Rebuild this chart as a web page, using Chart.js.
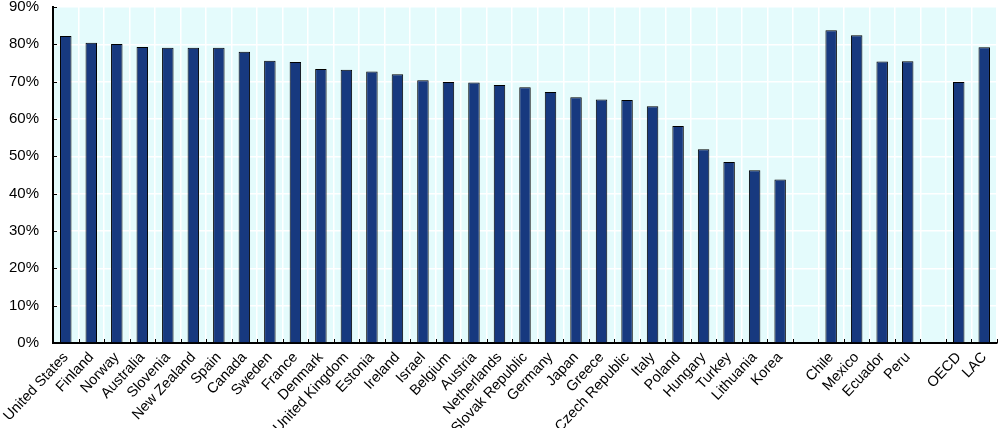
<!DOCTYPE html>
<html>
<head>
<meta charset="utf-8">
<script src="https://cdn.jsdelivr.net/npm/chart.js@4/dist/chart.umd.min.js"></script>
<style>
  html, body { margin: 0; padding: 0; background: #fff; }
  #wrap { width: 1000px; height: 428px; position: relative; }
</style>
</head>
<body>
<div id="wrap"><canvas id="chart"></canvas></div>
<script>
// empty strings are the spacer slots between the groups
const categories = [
  'United States', 'Finland', 'Norway', 'Australia', 'Slovenia', 'New Zealand', 'Spain', 'Canada',
  'Sweden', 'France', 'Denmark', 'United Kingdom', 'Estonia', 'Ireland', 'Israel', 'Belgium',
  'Austria', 'Netherlands', 'Slovak Republic', 'Germany', 'Japan', 'Greece', 'Czech Republic',
  'Italy', 'Poland', 'Hungary', 'Turkey', 'Lithuania', 'Korea',
  '',
  'Chile', 'Mexico', 'Ecuador', 'Peru',
  '',
  'OECD', 'LAC'
];

const shares = [
  82.2, 80.4, 80.1, 79.3, 79.1, 79.1, 79.1, 78.0,
  75.6, 75.3, 73.4, 73.2, 72.7, 72.0, 70.4, 69.9,
  69.8, 69.1, 68.5, 67.2, 65.8, 65.2, 65.1,
  63.4, 58.1, 51.9, 48.5, 46.3, 43.8,
  null,
  83.8, 82.4, 75.4, 75.5,
  null,
  69.9, 79.2
];

const yTicks = [0, 10, 20, 30, 40, 50, 60, 70, 80, 90];

const plotBg = '#e4fbfc';
const barColor = '#17397f';

// light plot background + short inward tick marks like the original
const plotDecor = {
  id: 'plotDecor',
  beforeDraw(chart) {
    const { ctx, chartArea: a } = chart;
    ctx.save();
    ctx.fillStyle = plotBg;
    ctx.fillRect(a.left, a.top, a.right - a.left, a.bottom - a.top);
    ctx.restore();
  },
  afterDatasetsDraw(chart) {
    const { ctx, chartArea: a, scales } = chart;
    const x = scales.x, y = scales.y;
    ctx.save();
    ctx.strokeStyle = '#000';
    ctx.lineWidth = 1;
    ctx.beginPath();
    for (let i = 0; i <= categories.length; i++) {
      const px = Math.round(x.getPixelForValue(i - 0.5)) + 0.5;
      ctx.moveTo(px, a.bottom);
      ctx.lineTo(px, a.bottom - 4);
    }
    yTicks.forEach((v) => {
      const py = Math.round(y.getPixelForValue(v)) + 0.5;
      ctx.moveTo(a.left, py);
      ctx.lineTo(a.left + 4, py);
    });
    ctx.stroke();
    ctx.restore();
  }
};

Chart.defaults.font.family = '"Liberation Sans", Arial, sans-serif';
Chart.defaults.color = '#000';

new Chart(document.getElementById('chart'), {
  type: 'bar',
  data: {
    labels: categories,
    datasets: [{
      data: shares,
      backgroundColor: barColor,
      borderColor: '#000',
      borderWidth: 1,
      barPercentage: 0.45,
      categoryPercentage: 1
    }]
  },
  options: {
    responsive: true,
    maintainAspectRatio: false,
    animation: false,
    layout: { padding: { top: 7, right: 3, left: 0, bottom: 0 } },
    plugins: { legend: { display: false }, tooltip: { enabled: false } },
    scales: {
      x: {
        offset: true,
        grid: { offset: true, color: '#fff', lineWidth: 1.5, drawTicks: false },
        border: { color: '#000', width: 2 },
        afterFit(scale) {
          scale.height = 85;
          scale.paddingLeft = 0;
          scale.paddingRight = 0;
        },
        ticks: {
          autoSkip: false,
          maxRotation: 47,
          minRotation: 47,
          padding: 6,
          font: { size: 14.5 }
        }
      },
      y: {
        min: 0,
        max: 90,
        afterBuildTicks(scale) { scale.ticks = yTicks.map((v) => ({ value: v })); },
        afterFit(scale) {
          scale.width = 53;
          scale.paddingTop = 0;
          scale.paddingBottom = 0;
        },
        grid: { color: '#fff', lineWidth: 1.5, drawTicks: false },
        border: { color: '#000', width: 2 },
        ticks: {
          padding: 14,
          font: { size: 15 },
          callback: (v) => v + '%'
        }
      }
    }
  },
  plugins: [plotDecor]
});
</script>
</body>
</html>
